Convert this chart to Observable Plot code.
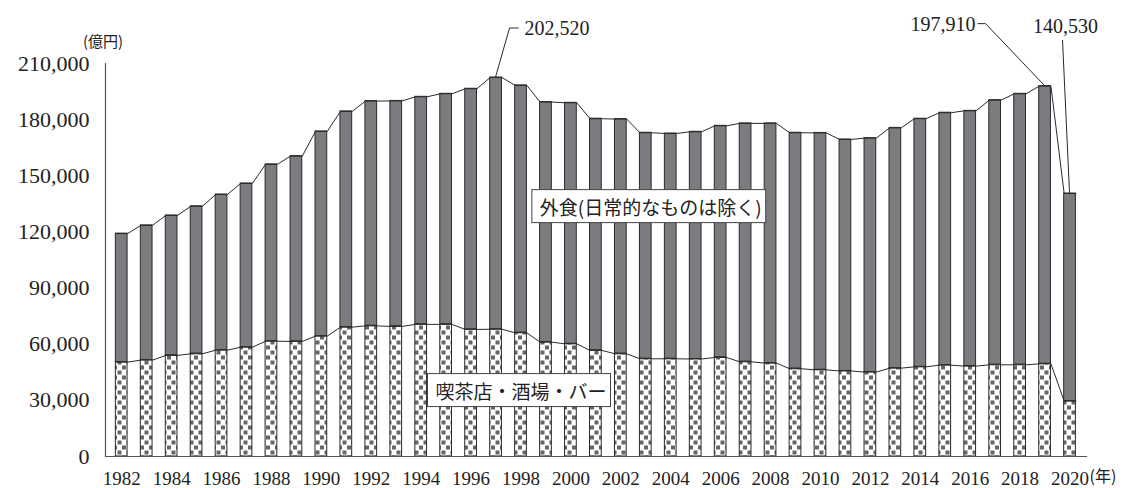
<!DOCTYPE html>
<html><head><meta charset="utf-8">
<script src="https://cdn.jsdelivr.net/npm/d3@7"></script>
<script src="https://cdn.jsdelivr.net/npm/@observablehq/plot@0.6"></script>
<style>body{margin:0;background:#fff;}</style>
</head><body><div id="chart"></div>
<script>
// ---- data (億円) ----
const years = d3.range(1982, 2021);
const gaishoku = [119100,123500,128800,133700,140000,145900,156100,160500,173700,184400,
  189900,190000,192200,193800,196500,202520,198300,189400,189000,180500,
  180300,173000,172600,173500,176700,178000,178000,173000,172900,169400,
  170100,175600,180500,183700,184700,190400,193800,197910,140530];
const kissa = [50400,51500,54000,54900,56800,58400,61600,61500,64300,69100,
  69800,69500,70600,70600,67900,68000,66100,61100,60200,56700,
  54900,52200,52200,52100,52900,50600,49900,46900,46300,45700,
  45100,47200,47900,48800,48300,49000,49000,49500,29600];
const yTicks = [0,30000,60000,90000,120000,150000,180000,210000];
const xTicks = d3.range(1982, 2021, 2);
const seriesLabels = ["外食(日常的なものは除く)", "喫茶店・酒場・バー"];
const calloutYears = [1997, 2019, 2020];
const calloutLabels = ["202,520", "197,910", "140,530"];
const yUnit = "(億円)";
const xUnit = "(年)";

const rows = years.map((y, i) => ({year: y, total: gaishoku[i], bar: kissa[i]}));
const hw = 0.235;
const stepPts = key => rows.flatMap(d => [{x: d.year - hw, y: d[key]}, {x: d.year + hw, y: d[key]}]);
const xMin = 1981.35, xMax = 2020.7;
const ink = "#2a2a2a";

const plot = Plot.plot({
  width: 1124, height: 488,
  marginLeft: 105, marginRight: 37, marginTop: 63, marginBottom: 32,
  style: {fontFamily: "'Liberation Serif', 'Noto Sans CJK JP', serif", fontSize: "22px", color: "#222", background: "#fff", overflow: "visible"},
  x: {type: "linear", domain: [xMin, xMax], ticks: xTicks, tickFormat: d => String(d), tickSize: 0, tickPadding: 15, label: null},
  y: {domain: [0, 210000], ticks: yTicks, tickFormat: d3.format(","), tickSize: 0, tickPadding: 16, label: null},
  marks: [
    Plot.rect(rows, {x1: d => d.year - hw, x2: d => d.year + hw, y1: d => d.bar, y2: d => d.total, fill: "#7b7c80", stroke: ink, strokeWidth: 1}),
    Plot.rect(rows, {x1: d => d.year - hw, x2: d => d.year + hw, y1: () => 0, y2: d => d.bar, fill: "url(#kissaPattern)", stroke: ink, strokeWidth: 1}),
    Plot.line(stepPts("total"), {x: "x", y: "y", stroke: ink, strokeWidth: 1}),
    Plot.line(stepPts("bar"), {x: "x", y: "y", stroke: ink, strokeWidth: 1}),
    Plot.ruleY([0], {x1: () => xMin, x2: () => xMax, stroke: "#555", strokeWidth: 1.2}),
    Plot.ruleX([xMin], {y1: () => 0, y2: () => 210000, stroke: "#555", strokeWidth: 1.2}),
    Plot.text([seriesLabels[0]], {x: () => 2003.2, y: () => 132500, text: d => d, fontSize: 19, fontFamily: "'Noto Sans CJK JP', sans-serif", fill: "#222"}),
    Plot.text([seriesLabels[1]], {x: () => 1998.0, y: () => 34200, text: d => d, fontSize: 19, fontFamily: "'Noto Sans CJK JP', sans-serif", fill: "#222"})
  ]
});
document.getElementById("chart").append(plot);
const svgNode = plot.tagName.toLowerCase() === "svg" ? plot : plot.querySelector("svg");
const svg = d3.select(svgNode);

// pattern for 喫茶店・酒場・バー bars
const defs = svg.insert("defs", ":first-child");
const pat = defs.append("pattern").attr("id", "kissaPattern").attr("patternUnits", "userSpaceOnUse").attr("width", 9).attr("height", 10);
pat.append("rect").attr("width", 9).attr("height", 10).attr("fill", "#fff");
pat.append("rect").attr("x", 0.5).attr("y", 0.5).attr("width", 4).attr("height", 4).attr("fill", "#666");
pat.append("rect").attr("x", 5).attr("y", 5.5).attr("width", 4).attr("height", 4).attr("fill", "#666");

// x axis label size
svg.selectAll('g[aria-label^="x-axis"] text').style("font-size", "19px");

// boxes behind series labels
svg.selectAll("text").each(function() {
  const t = this.textContent;
  if (!seriesLabels.includes(t)) return;
  const b = this.getBBox();
  const r = document.createElementNS("http://www.w3.org/2000/svg", "rect");
  r.setAttribute("x", b.x - 8); r.setAttribute("y", b.y - 3);
  r.setAttribute("width", b.width + 12); r.setAttribute("height", b.height + 6);
  r.setAttribute("fill", "#fff"); r.setAttribute("stroke", "#444"); r.setAttribute("stroke-width", 1);
  if (this.getAttribute("transform")) r.setAttribute("transform", this.getAttribute("transform"));
  this.parentNode.insertBefore(r, this);
});

// callouts
const xs = plot.scale("x"), ys = plot.scale("y");
const lead = svg.append("g").attr("fill", "none").attr("stroke", ink).attr("stroke-width", 1);
const lab = svg.append("g").attr("font-family", "'Liberation Serif', serif").attr("font-size", 20).attr("fill", "#222");
calloutYears.forEach((yr, i) => {
  const v = gaishoku[years.indexOf(yr)];
  const px = xs.apply(yr), py = ys.apply(v);
  if (i === 0) {
    lead.append("path").attr("d", `M${px},${py}L${px + 14},${py - 49}H${px + 23}`);
    lab.append("text").attr("x", px + 29).attr("y", py - 49).attr("dy", "0.35em").attr("text-anchor", "start").text(calloutLabels[i]);
  } else if (i === 1) {
    lead.append("path").attr("d", `M${px},${py}L${px - 59},${py - 62}H${px - 67}`);
    lab.append("text").attr("x", px - 69).attr("y", py - 62).attr("dy", "0.35em").attr("text-anchor", "end").text(calloutLabels[i]);
  } else {
    lead.append("path").attr("d", `M${px},${py}L${px - 7},${py - 153}`);
    lab.append("text").attr("x", px - 4).attr("y", py - 167).attr("dy", "0.35em").attr("text-anchor", "middle").text(calloutLabels[i]);
  }
});

// unit labels
svg.append("text").attr("x", xs.apply(xMin) - 2).attr("y", ys.apply(210000) - 21).attr("dy", "0.35em")
  .attr("text-anchor", "middle").attr("font-family", "'Noto Sans CJK JP', sans-serif").attr("font-size", 15).attr("fill", "#222").text(yUnit);
svg.append("text").attr("x", xs.apply(2020) + 20).attr("y", ys.apply(0) + 26)
  .attr("text-anchor", "start").attr("font-family", "'Noto Sans CJK JP', sans-serif").attr("font-size", 16).attr("fill", "#222").text(xUnit);
</script>
</body></html>
